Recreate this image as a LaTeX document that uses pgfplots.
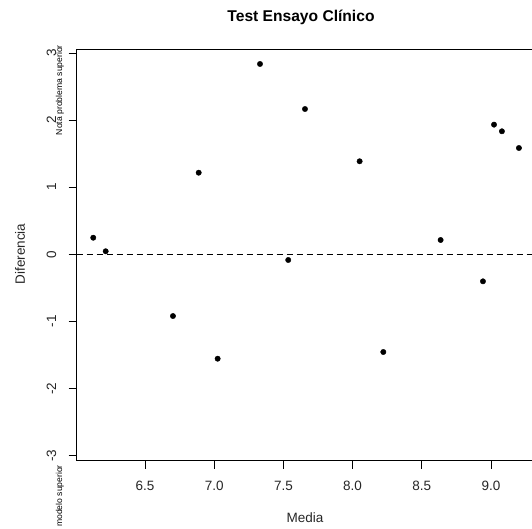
\documentclass[border=0pt]{standalone}
\usepackage{pgfplots}
\pgfplotsset{compat=1.18}
\usepackage{fontspec}
\setmainfont{Liberation Sans}
\begin{document}
\begin{tikzpicture}
\path[use as bounding box] (0,0) rectangle (532bp,529bp);
\begin{axis}[
  at={(76.7bp,68.3bp)}, anchor=south west,
  scale only axis, width=464.1bp, height=411.4bp,
  xmin=6.0065, xmax=9.36, ymin=-3.076, ymax=3.055,
  xtick={6.5,7.0,7.5,8.0,8.5,9.0},
  ytick={-3,-2,-1,0,1,2,3},
  xtick pos=bottom, ytick pos=left,
  tick align=outside, major tick length=8bp,
  tick style={black, line width=0.7bp},
  axis line style={black, line width=0.9bp},
  /pgf/number format/assume math mode=true,
  xticklabel={\pgfmathprintnumber[fixed,fixed zerofill,precision=1]{\tick}},
  ticklabel style={font=\fontsize{13.5bp}{15bp}\selectfont, text=black!85},
  xticklabel style={yshift=-9bp},
  yticklabel style={rotate=90, anchor=south, yshift=9bp},
  clip=false,
]
\addplot[black, dash pattern=on 6bp off 4bp, line width=0.8bp, forget plot] coordinates {(6.0065,0) (9.36,0)};
\addplot[only marks, mark=*, mark size=2.7bp, black] coordinates {
(6.126,0.247)
(6.216,0.045)
(6.702,-0.920)
(6.888,1.216)
(7.025,-1.556)
(7.331,2.836)
(7.535,-0.085)
(7.656,2.165)
(8.051,1.386)
(8.222,-1.456)
(8.636,0.213)
(8.942,-0.403)
(9.022,1.932)
(9.079,1.833)
(9.202,1.584)
};
\end{axis}
\node[font=\bfseries\fontsize{15.6bp}{17bp}\selectfont] at (301bp,512bp) {Test Ensayo Clínico};
\node[font=\fontsize{13.5bp}{15bp}\selectfont, text=black!85] at (305bp,11bp) {Media};
\node[font=\fontsize{13.5bp}{15bp}\selectfont, text=black!85, rotate=90] at (20bp,275bp) {Diferencia};
\node[font=\fontsize{8.6bp}{9bp}\selectfont, rotate=90, anchor=east, inner sep=0pt] at (60bp,484bp) {Nota problema superior};
\node[font=\fontsize{8.6bp}{9bp}\selectfont, rotate=90, anchor=east, inner sep=0pt] at (60bp,64bp) {modelo superior};
\end{tikzpicture}
\end{document}
